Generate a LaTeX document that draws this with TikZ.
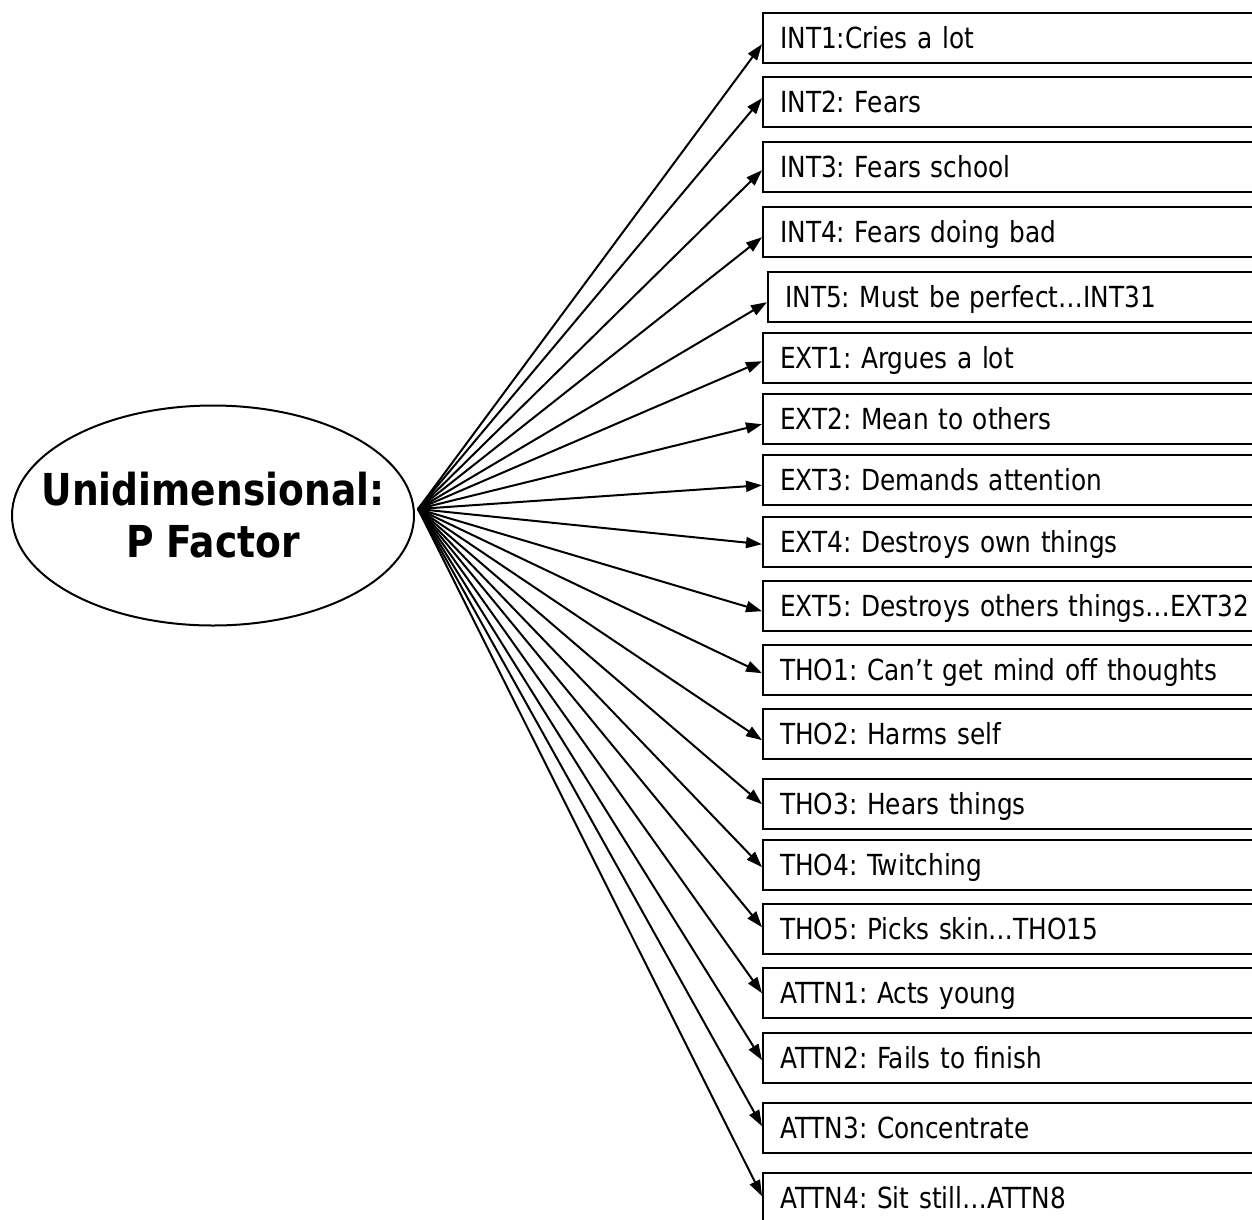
\documentclass[tikz,border=0pt]{standalone}
\usepackage{fontspec}
\setmainfont[FakeStretch=0.95]{DejaVu Sans Condensed}
\usetikzlibrary{arrows.meta,shapes.geometric}
\frenchspacing
\begin{document}
\begin{tikzpicture}[x=1pt,y=-1pt,
  item/.style={draw,line width=2.4pt,anchor=north west,rectangle,
    minimum height=50pt,text width=560pt,inner xsep=17pt,inner ysep=0pt,
    align=left,text height=21pt,text depth=0pt,
    font=\fontsize{29}{29}\selectfont},
  factor/.style={draw,ellipse,line width=2pt,minimum width=402pt,minimum height=220pt,
    inner sep=0pt},
  factortext/.style={align=center,inner sep=0pt,font=\bfseries\fontsize{44}{52}\selectfont},
  arr/.style={line width=2pt,-{Triangle[length=16pt,width=11pt]}}]
\useasboundingbox (0,0) rectangle (1252,1219);
\clip (0,0) rectangle (1252,1219);
\fill[white] (0,0) rectangle (1252,1219);
\node[factor] (pf) at (213,515.5) {};
\node[factortext] (pflabel) at (213,515) {Unidimensional:\\P Factor};
\coordinate (src) at (418,509);
\foreach \n/\t/\l/\o/\s in {
  i1/12/762/6/{INT1:Cries a lot},
  i2/76/762/-4/{INT2: Fears},
  i3/141/762/3/{INT3: Fears school},
  i4/206/762/5/{INT4: Fears doing bad},
  i5/271/767/5/{INT5: Must be perfect…INT31},
  e1/332/762/3/{EXT1: Argues a lot},
  e2/393/762/5/{EXT2: Mean to others},
  e3/454/762/5/{EXT3: Demands attention},
  e4/516/762/2/{EXT4: Destroys own things},
  e5/580/762/5/{EXT5: Destroys others things…EXT32},
  t1/644/762/3/{THO1: Can’t get mind off thoughts},
  t2/708/762/6/{THO2: Harms self},
  t3/778/762/0/{THO3: Hears things},
  t4/839/762/2/{THO4: Twitching},
  t5/903/762/-2/{THO5: Picks skin…THO15},
  a1/967/762/0/{ATTN1: Acts young},
  a2/1032/762/2/{ATTN2: Fails to finish},
  a3/1102/762/-2/{ATTN3: Concentrate},
  a4/1172/762/-2/{ATTN4: Sit still…ATTN8}}
{
  \node[item] (\n) at (\l,\t) {\s};
  \draw[arr] (src) -- ([yshift={-1pt*(\o)}]\n.west);
}
\end{tikzpicture}
\end{document}
